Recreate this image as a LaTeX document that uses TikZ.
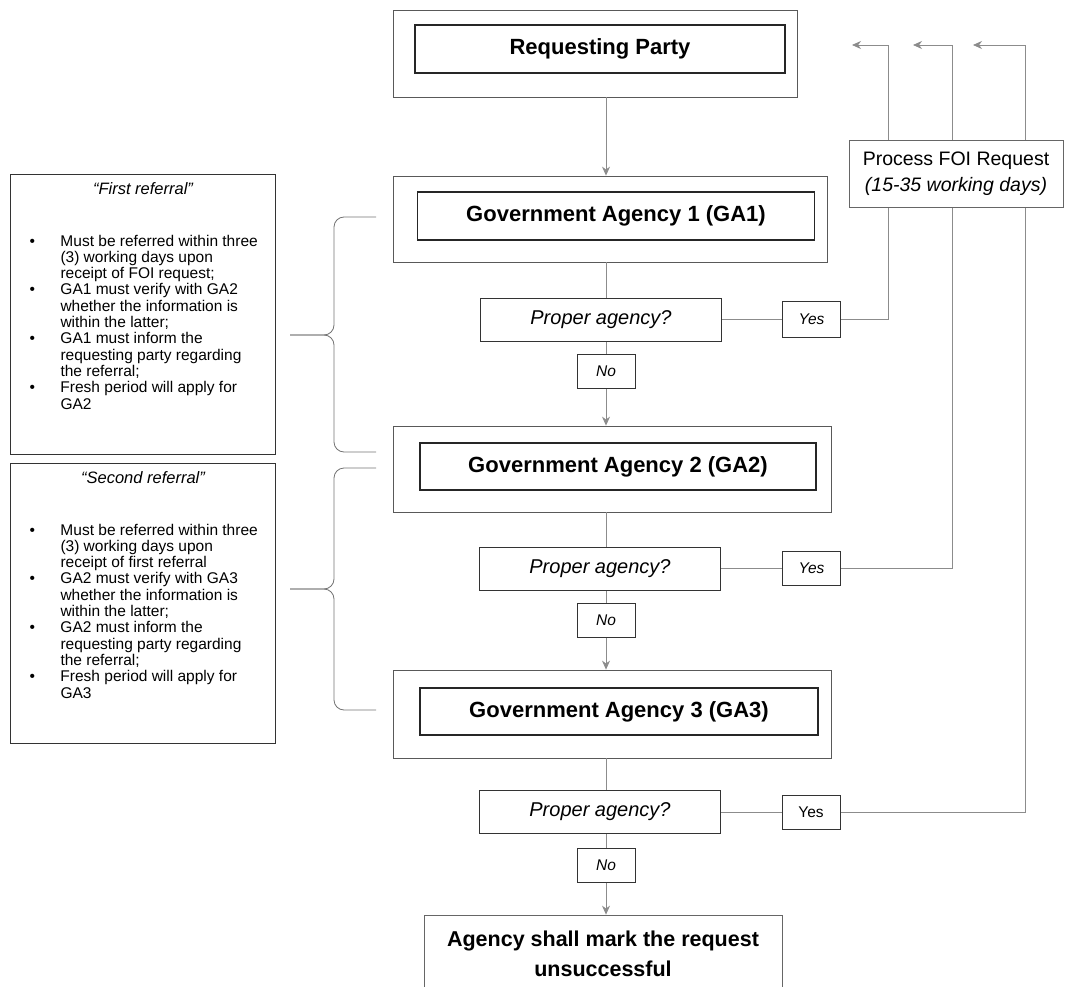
\documentclass[tikz,border=0pt]{standalone}
\usepackage{fontspec}
\setmainfont{Liberation Sans}
\usetikzlibrary{arrows.meta}

\tikzset{
  outerbox/.style={draw=black!65,line width=0.8pt,fill=white,inner sep=0pt},
  innerbox/.style={draw=black!85,line width=1.1pt,inner sep=0pt,font=\fontsize{22}{26}\selectfont\bfseries},
  askbox/.style={draw=black!80,line width=1pt,fill=white,minimum width=241pt,minimum height=43pt,inner sep=0pt,font=\fontsize{20}{24}\selectfont\itshape},
  tagbox/.style={draw=black!80,line width=1pt,fill=white,minimum width=58pt,minimum height=34pt,inner sep=0pt,font=\fontsize{15.5}{18}\selectfont\itshape},
  notebox/.style={draw=black!80,line width=1pt,minimum width=265pt,minimum height=280pt,inner sep=8pt,anchor=north west},
  flow/.style={draw=black!45,line width=0.8pt},
  brace/.style={draw=black!55,line width=0.8pt,rounded corners=10pt}
}
\newcommand{\notetext}[2]{\parbox[t][264pt][t]{249pt}{%
  {\centering\fontsize{16.5}{18}\selectfont\itshape #1\par}
  \vspace{39pt}
  \noindent\fontsize{15.5}{16.3}\selectfont
  \begin{tabular}{@{\hspace{11pt}}p{31pt}@{}l@{}}#2\end{tabular}}}

\begin{document}
\begin{tikzpicture}[x=1pt,y=-1pt,>={Stealth[length=9pt,width=8pt]}]
\useasboundingbox (0,0) rectangle (1065,987);

\path node (rpo) at (595,53.5) [outerbox,minimum width=404pt,minimum height=87pt] {}
      node (rp) at (600,49) [innerbox,minimum width=370pt,minimum height=48pt] {Requesting Party};

\path node (ga1o) at (610,219) [outerbox,minimum width=434pt,minimum height=86pt] {}
      node (ga1) at (616,216) [innerbox,minimum width=397pt,minimum height=48pt] {Government Agency 1 (GA1)}
      node (pa1) at (601,319.5) [askbox] {Proper agency?}
      node (no1) at (606,371.5) [tagbox] {No}
      node (yes1) at (811.5,319.5) [tagbox,minimum height=36pt] {Yes};

\path node (ga2o) at (612,469) [outerbox,minimum width=438pt,minimum height=86pt] {}
      node (ga2) at (618,466.5) [innerbox,minimum width=396pt,minimum height=47pt] {Government Agency 2 (GA2)}
      node (pa2) at (600,568.5) [askbox] {Proper agency?}
      node (no2) at (606,620.5) [tagbox] {No}
      node (yes2) at (811.5,568.5) [tagbox] {Yes};

\path node (ga3o) at (612,714) [outerbox,minimum width=438pt,minimum height=88pt] {}
      node (ga3) at (619,711.5) [innerbox,minimum width=398pt,minimum height=47pt] {Government Agency 3 (GA3)}
      node (pa3) at (600,812) [askbox] {Proper agency?}
      node (no3) at (606,865) [tagbox] {No}
      node (yes3) at (811,812) [tagbox,font=\fontsize{15.5}{18}\selectfont] {Yes};

\path node (fail) at (603,954) [draw=black!60,line width=0.8pt,minimum width=358pt,minimum height=78pt,align=center,font=\fontsize{21.5}{30}\selectfont\bfseries] {Agency shall mark the request\\unsuccessful};

\coordinate (r1) at (888,45);
\coordinate (t1) at (852,45);
\coordinate (r2) at (952,45);
\coordinate (t2) at (913,45);
\coordinate (r3) at (1025,45);
\coordinate (t3) at (973,45);

\draw [flow,->] (rpo.south -| no1) to (no1 |- ga1o.north);
\draw [flow] (ga1o.south -| no1) to (no1 |- pa1.north);
\draw [flow] (pa1.south -| no1) to (no1.north);
\draw [flow,->] (no1.south) to (no1 |- ga2o.north);
\draw [flow] (ga2o.south -| no2) to (no2 |- pa2.north);
\draw [flow] (pa2.south -| no2) to (no2.north);
\draw [flow,->] (no2.south) to (no2 |- ga3o.north);
\draw [flow] (ga3o.south -| no3) to (no3 |- pa3.north);
\draw [flow] (pa3.south -| no3) to (no3.north);
\draw [flow,->] (no3.south) to (no3 |- fail.north);

\draw [flow] (pa1.east) to (yes1.west);
\draw [flow] (pa2.east) to (yes2.west);
\draw [flow] (pa3.east) to (yes3.west);
\draw [flow,->] (yes1.east) -| (r1) -- (t1);
\draw [flow,->] (yes2.east) -| (r2) -- (t2);
\draw [flow,->] (yes3.east) -| (r3) -- (t3);

\path node (foi) at (956,173.5) [draw=black!60,line width=0.8pt,fill=white,minimum width=214pt,minimum height=67pt,align=center,font=\fontsize{19.5}{26}\selectfont] {Process FOI Request\\\textit{(15-35 working days)}};

\path node (note1) at (10,174) [notebox] {\notetext{“First referral”}{%
\textbullet & Must be referred within three\\
 & (3) working days upon\\
 & receipt of FOI request;\\
\textbullet & GA1 must verify with GA2\\
 & whether the information is\\
 & within the latter;\\
\textbullet & GA1 must inform the\\
 & requesting party regarding\\
 & the referral;\\
\textbullet & Fresh period will apply for\\
 & GA2}};
\path node (note2) at (10,463) [notebox] {\notetext{“Second referral”}{%
\textbullet & Must be referred within three\\
 & (3) working days upon\\
 & receipt of first referral\\
\textbullet & GA2 must verify with GA3\\
 & whether the information is\\
 & within the latter;\\
\textbullet & GA2 must inform the\\
 & requesting party regarding\\
 & the referral;\\
\textbullet & Fresh period will apply for\\
 & GA3}};

\draw [brace] (376,217) -- (334,217) -- (334,335) -- (290,335);
\draw [brace] (376,452) -- (334,452) -- (334,335) -- (290,335);
\draw [brace] (376,468) -- (334,468) -- (334,589) -- (290,589);
\draw [brace] (376,710) -- (334,710) -- (334,589) -- (290,589);
\end{tikzpicture}
\end{document}
